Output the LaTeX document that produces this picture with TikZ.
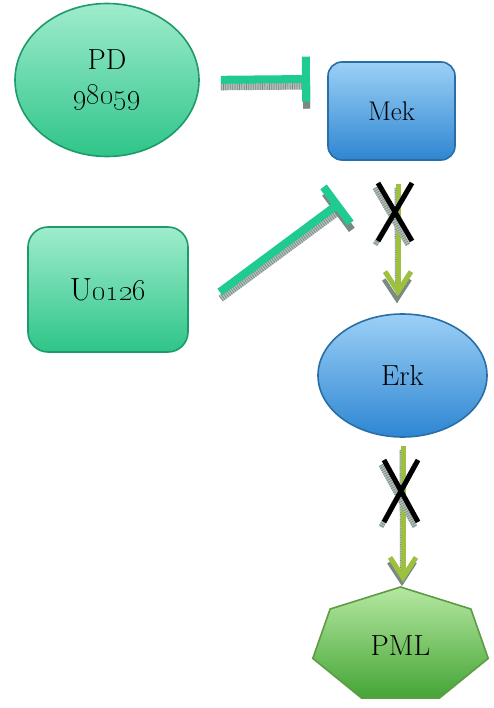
\documentclass[tikz,border=0pt]{standalone}
\usetikzlibrary{shapes.geometric,arrows.meta,calc}
\definecolor{drugtop}{HTML}{9FECCD}
\definecolor{drugbot}{HTML}{2EC588}
\definecolor{drugedge}{HTML}{1E9A6B}
\definecolor{kintop}{HTML}{9CD0F6}
\definecolor{kinbot}{HTML}{2E86D2}
\definecolor{kinedge}{HTML}{2A6EA6}
\definecolor{pmltop}{HTML}{B5E8A2}
\definecolor{pmlbot}{HTML}{45A535}
\definecolor{pmledge}{HTML}{5E9B45}
\definecolor{inhib}{HTML}{1FCB91}
\definecolor{act}{HTML}{9DC03F}
\definecolor{shadelight}{HTML}{B4C0BA}
\definecolor{shadedark}{HTML}{7A8A83}
\begin{document}
\begin{tikzpicture}[x=1pt,y=-1pt,
  font=\fontsize{29}{35}\selectfont,
  drug/.style={draw=drugedge, line width=1.6pt, top color=drugtop, bottom color=drugbot, align=center, inner sep=0pt},
  kinase/.style={draw=kinedge, line width=1.6pt, top color=kintop, bottom color=kinbot, inner sep=0pt},
  hatch/.style={draw=shadelight, line width=#1,
    postaction={draw=shadedark, line width=#1, dash pattern=on 0.7pt off 1.6pt}},
  inhline/.style={draw=inhib, line width=8pt, -{Bar[width=45pt]}},
  actline/.style={draw=act, line width=5pt, -{Straight Barb[length=20pt,width=26pt]}},
  crossmark/.style={draw=black, line width=5pt},
]
\useasboundingbox (0,0) rectangle (494,708);

% nodes
\node[drug, ellipse, minimum width=184pt, minimum height=153pt] (pd) at (107,80) {PD\\\oldstylenums{98059}};
\node[drug, rectangle, rounded corners=20pt, minimum width=160pt, minimum height=125pt,
  font=\fontsize{32}{38}\selectfont] (uo) at (108,289.5) {U\oldstylenums{0126}};
\node[kinase, rectangle, rounded corners=14pt, minimum width=127pt, minimum height=98pt,
  font=\fontsize{27}{32}\selectfont] (mek) at (391.5,111) {Mek};
\node[kinase, ellipse, minimum width=169pt, minimum height=123pt] (erk) at (402.5,375.5) {Erk};

% PML heptagon
\coordinate (pc) at (400.5,645.4);
\draw[draw=pmledge, line width=1.6pt, top color=pmltop, bottom color=pmlbot]
  ($(pc)+(-90:90 and 58.4)$)
  \foreach \k in {1,...,6} { -- ($(pc)+(-90+\k*51.4286:90 and 58.4)$) } -- cycle;
\node (pml) at (pc) {PML};
\coordinate (pmltip) at (403,582);

% inhibitor ends
\coordinate (t1) at (310,79);
\coordinate (t2) at (340.2,202.6);

% inhibitor shadows
\draw[hatch=7pt, -{Bar[width=45pt]}, shorten <=21pt] ([yshift=-7pt]pd.east) -- ([yshift=-7pt]t1);
\draw[hatch=7pt, -{Bar[width=45pt]}] ([xshift=32pt,yshift=-9pt]uo.east) -- ([xshift=1pt,yshift=-7pt]t2);
% inhibitor lines
\draw[inhline, shorten <=21pt] (pd.east) -- (t1);
\draw[inhline] ([xshift=31pt,yshift=-2.5pt]uo.east) -- (t2);

% activation arrows
\draw[hatch=4pt, -{Straight Barb[length=20pt,width=26pt]}, shorten <=23pt, shorten >=14pt]
  ([xshift=5pt,yshift=-4pt]mek.south) -- ([xshift=-5.5pt,yshift=-4pt]erk.north);
\draw[actline, shorten <=23pt, shorten >=17pt] ([xshift=6.5pt]mek.south) -- ([xshift=-4.5pt]erk.north);
\draw[hatch=4pt, -{Straight Barb[length=20pt,width=26pt]}, shorten <=8pt]
  ([xshift=-1pt,yshift=-4pt]erk.south) -- ([xshift=-1pt,yshift=-4pt]pmltip);
\draw[actline, shorten <=8pt] ([xshift=0.5pt]erk.south) -- (pmltip);

% blocked steps
\draw[hatch=5pt] (375,188) -- (408,245) (409,188) -- (375,245);
\draw[crossmark] (378,183) -- (412,241) (412,183) -- (378,241);
\draw[hatch=5pt] (381,465) -- (415,527) (415,465) -- (381,527);
\draw[crossmark] (384,460) -- (418,522) (418,460) -- (384,522);
\end{tikzpicture}
\end{document}
